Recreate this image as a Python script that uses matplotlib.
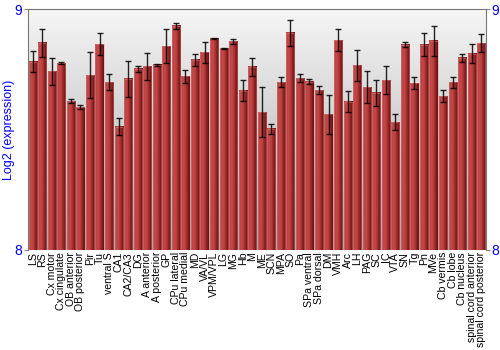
import numpy as np
import matplotlib
matplotlib.use('Agg')
import matplotlib.pyplot as plt
from matplotlib.colors import LinearSegmentedColormap

plt.rcParams['font.family'] = ['Liberation Sans', 'DejaVu Sans']

regions = ['LS', 'RS', 'Cx motor', 'Cx cingulate', 'OB anterior', 'OB posterior', 'Pir', 'Tu',
           'ventral S', 'CA1', 'CA2/CA3', 'DG', 'A anterior', 'A posterior', 'GP', 'CPu lateral',
           'CPu medial', 'MD', 'VA/VL', 'VPM/VPL', 'LG', 'MG', 'Hb', 'M', 'ME', 'SCN', 'MPA', 'SO',
           'Pa', 'SPa ventral', 'SPa dorsal', 'DM', 'VMH', 'Arc', 'LH', 'PAG', 'SC', 'IC', 'VTA',
           'SN', 'Tg', 'Pn', 'MVe', 'Cb vermis', 'Cb lobe', 'Cb nucleus', 'spinal cord anterior',
           'spinal cord posterior']
expr = [8.782, 8.861, 8.742, 8.776, 8.619, 8.593, 8.727, 8.856,
        8.697, 8.512, 8.712, 8.753, 8.764, 8.770, 8.848, 8.932,
        8.723, 8.791, 8.821, 8.879, 8.838, 8.867, 8.662, 8.762, 8.573, 8.504, 8.698, 8.904,
        8.715, 8.700, 8.664, 8.564, 8.872, 8.616, 8.767, 8.676, 8.654, 8.706, 8.532,
        8.853, 8.694, 8.853, 8.870, 8.640, 8.697, 8.799, 8.816,
        8.859]
err = [0.044, 0.058, 0.057, 0.004, 0.007, 0.008, 0.094, 0.044,
       0.033, 0.035, 0.075, 0.012, 0.056, 0.005, 0.070, 0.012,
       0.027, 0.025, 0.042, 0.003, 0.003, 0.010, 0.043, 0.038, 0.103, 0.020, 0.019, 0.054,
       0.016, 0.010, 0.017, 0.080, 0.046, 0.044, 0.066, 0.066, 0.054, 0.057, 0.034,
       0.010, 0.024, 0.048, 0.062, 0.023, 0.022, 0.017, 0.039,
       0.037]

ymin, ymax = 8, 9
x = np.arange(len(regions))
w = 0.86

fig = plt.figure(figsize=(5, 3.5), dpi=100)
ax = fig.add_axes([0.056, 0.286, 0.916, 0.687])

# background gradient, light at top
bg = np.linspace(0, 1, 256).reshape(-1, 1)
bg_cmap = LinearSegmentedColormap.from_list('bg', ['#f6f6f6', '#a8a8a8'])
ax.imshow(bg, cmap=bg_cmap, origin='upper',
          extent=[-0.5, len(regions) - 0.5, ymin, ymax], aspect='auto', zorder=0)

# bars with horizontal shading
bar_cmap = LinearSegmentedColormap.from_list('bar', ['#b03a3a', '#c84a4a', '#b63e3e', '#902222', '#680f0f'])
grad = np.linspace(0, 1, 64).reshape(1, -1)
for i, v in enumerate(expr):
    ax.imshow(grad, cmap=bar_cmap, extent=[i - w / 2, i + w / 2, ymin, v],
              aspect='auto', zorder=2)
    ax.add_patch(plt.Rectangle((i - w / 2, ymin), w, v - ymin, fill=False,
                               edgecolor='#e09090', lw=0.6, alpha=0.5, zorder=3))

ax.errorbar(x, expr, yerr=err, fmt='none', ecolor='black', elinewidth=1,
            capsize=2, capthick=1, alpha=0.85, zorder=4)

ax.set_xlim(-0.5, len(regions) - 0.5)
ax.set_ylim(ymin, ymax)
ax.set_xticks(x)
ax.set_xticklabels(regions, rotation=90, fontsize=7.6)
ax.tick_params(axis='x', length=0, pad=1.5)
ax.set_yticks([8, 9])
ax.tick_params(axis='y', colors='#888888', labelcolor='blue', labelsize=10,
               length=3, right=True, labelright=True, pad=1)
ax.set_ylabel('Log2 (expression)', color='blue', fontsize=9, labelpad=0)
for s in ['left', 'right', 'top']:
    ax.spines[s].set_color('#777777')
ax.spines['bottom'].set_visible(False)

fig.savefig('out.png', dpi=100)
